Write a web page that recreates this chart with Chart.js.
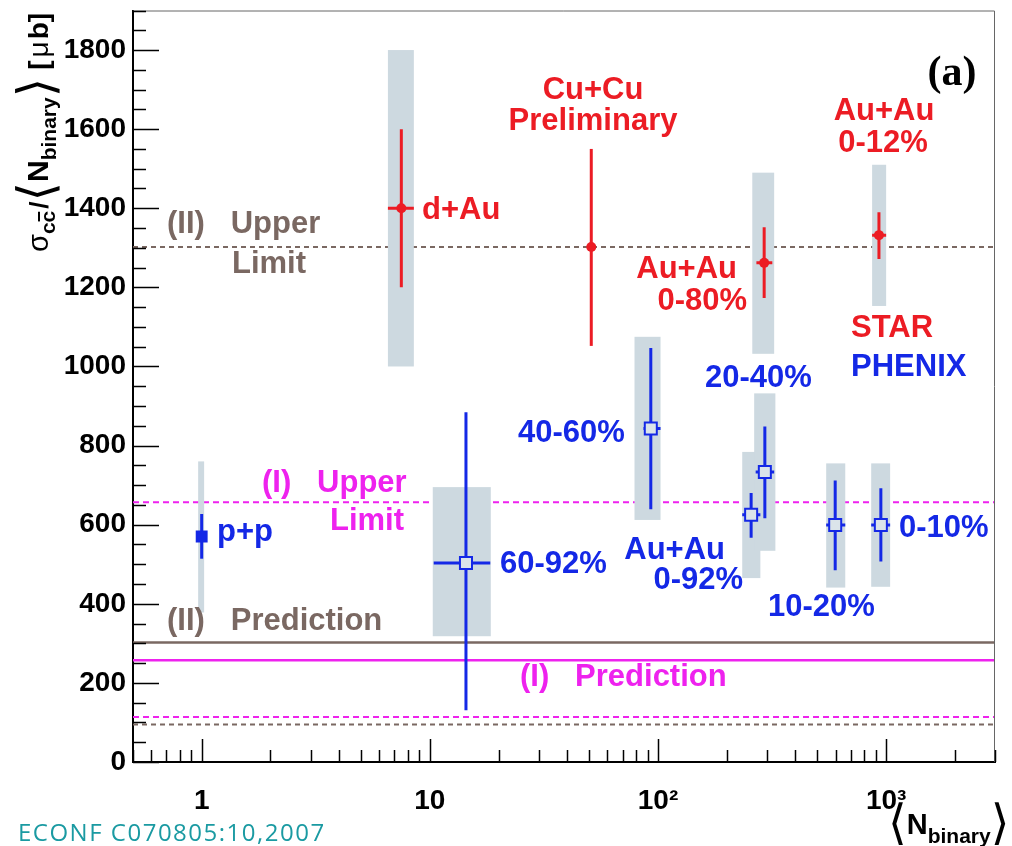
<!DOCTYPE html>
<html>
<head>
<meta charset="utf-8">
<script src="https://cdn.jsdelivr.net/npm/chart.js@4.4.0/dist/chart.umd.min.js"></script>
<style>
  body { margin: 0; background: #fff; }
</style>
</head>
<body>
<canvas id="myChart" width="1012" height="846"></canvas>
<script>
// axis ticks
const xTicks = [1, 10, 100, 1000];
const xTickLabels = ["1", "10", "10²", "10³"];
const yTicks = [0, 200, 400, 600, 800, 1000, 1200, 1400, 1600, 1800];

// STAR (red) points
const starNames = ["d+Au", "Cu+Cu", "Au+Au 0-80%", "Au+Au 0-12%"];
const starX = [7.5, 51, 292, 930];
const starY = [1400, 1302, 1262, 1332];
const starErrLow = [1200, 1052, 1173, 1272];
const starErrHigh = [1600, 1550, 1352, 1390];
const starXLow = [6.55, 51, 270, 868];
const starXHigh = [8.51, 51, 317, 1000];
const starSysLow = [1000, null, 1032, 1153];
const starSysHigh = [1800, null, 1490, 1510];
const starSysXLow = [6.55, null, 259, 868];
const starSysXHigh = [8.51, null, 323, 1000];

// PHENIX (blue) points
const phenixNames = ["p+p", "60-92%", "40-60%", "Au+Au 0-92%", "20-40%", "10-20%", "0-10%"];
const phenixX = [1.0, 14.4, 93, 256, 294, 598, 948];
const phenixY = [570, 503, 843, 625, 733, 599, 599];
const phenixErrLow = [514, 131, 639, 567, 616, 485, 507];
const phenixErrHigh = [627, 884, 1047, 680, 848, 712, 692];
const phenixXLow = [1.0, 10.4, 86.4, 234, 268, 546, 860];
const phenixXHigh = [1.0, 18.4, 102.6, 281, 323, 662, 1041];
const phenixSysLow = [378, 318, 612, 465, 534, 441, 443];
const phenixSysHigh = [760, 695, 1075, 784, 932, 755, 755];
const phenixSysXLow = [0.965, 10.3, 78.9, 234, 264, 546, 860];
const phenixSysXHigh = [1.025, 18.5, 102.6, 281, 327, 662, 1041];

// model lines
const limitNames = ["(II) Upper Limit", "(I) Upper Limit", "(II) Prediction", "(I) Prediction", "(I) lower", "(II) lower"];
const limitValues = [1302, 657, 302, 257, 114, 95];

const RED = "#ec1c24";
const BLUE = "#1428e6";
const MAGENTA = "#ee22ee";
const BROWN = "#7a6862";
const BOX = "#cdd9e0";
const SANS = "'Liberation Sans', Arial, sans-serif";

const limitColors = [BROWN, MAGENTA, BROWN, MAGENTA, MAGENTA, BROWN];
const limitDash = [[5, 4], [6, 4], [], [], [6, 4], [5, 4]];

// text placed on the plot (pixel positions, cap centre)
const notes = [
  { t: "d+Au", x: 422, y: 210, c: RED, a: "left" },
  { t: "Cu+Cu", x: 593, y: 90, c: RED, a: "center" },
  { t: "Preliminary", x: 593, y: 121, c: RED, a: "center" },
  { t: "Au+Au", x: 737, y: 269, c: RED, a: "right" },
  { t: "0-80%", x: 747, y: 301, c: RED, a: "right" },
  { t: "Au+Au", x: 884, y: 111, c: RED, a: "center" },
  { t: "0-12%", x: 883, y: 143, c: RED, a: "center" },
  { t: "STAR", x: 851, y: 328, c: RED, a: "left" },
  { t: "PHENIX", x: 851, y: 367, c: BLUE, a: "left" },
  { t: "20-40%", x: 705, y: 378, c: BLUE, a: "left" },
  { t: "40-60%", x: 518, y: 433, c: BLUE, a: "left" },
  { t: "p+p", x: 217, y: 532, c: BLUE, a: "left" },
  { t: "60-92%", x: 500, y: 564, c: BLUE, a: "left" },
  { t: "Au+Au", x: 725, y: 550, c: BLUE, a: "right" },
  { t: "0-92%", x: 743, y: 580, c: BLUE, a: "right" },
  { t: "10-20%", x: 768, y: 607, c: BLUE, a: "left" },
  { t: "0-10%", x: 899, y: 528, c: BLUE, a: "left" },
  { t: "(II)   Upper", x: 167, y: 224, c: BROWN, a: "left" },
  { t: "Limit", x: 232, y: 264, c: BROWN, a: "left" },
  { t: "(I)   Upper", x: 262, y: 483, c: MAGENTA, a: "left" },
  { t: "Limit", x: 330, y: 521, c: MAGENTA, a: "left" },
  { t: "(II)   Prediction", x: 167, y: 621, c: BROWN, a: "left" },
  { t: "(I)   Prediction", x: 520, y: 677, c: MAGENTA, a: "left" },
];

const pts = (xs, ys) => xs.map((x, i) => ({ x: x, y: ys[i] }));

const drawErrors = function (chart, xs, ys, lo, hi, xlo, xhi, color) {
  const ctx = chart.ctx;
  const sx = chart.scales.x, sy = chart.scales.y;
  ctx.save();
  ctx.strokeStyle = color;
  ctx.lineWidth = 3;
  xs.forEach((x, i) => {
    const px = sx.getPixelForValue(x);
    ctx.beginPath();
    ctx.moveTo(px, sy.getPixelForValue(hi[i]));
    ctx.lineTo(px, sy.getPixelForValue(lo[i]));
    if (xlo[i] !== xhi[i]) {
      const py = sy.getPixelForValue(ys[i]);
      ctx.moveTo(sx.getPixelForValue(xlo[i]), py);
      ctx.lineTo(sx.getPixelForValue(xhi[i]), py);
    }
    ctx.stroke();
  });
  ctx.restore();
};

const drawBoxes = function (chart, xlo, xhi, lo, hi) {
  const ctx = chart.ctx;
  const sx = chart.scales.x, sy = chart.scales.y;
  ctx.save();
  ctx.fillStyle = BOX;
  xlo.forEach((x, i) => {
    if (x === null) return;
    const l = sx.getPixelForValue(x), r = sx.getPixelForValue(xhi[i]);
    const t = sy.getPixelForValue(hi[i]), b = sy.getPixelForValue(lo[i]);
    ctx.fillRect(l, t, r - l, b - t);
  });
  ctx.restore();
};

// draw a row of text pieces, returns end x
const drawPieces = function (ctx, pieces, x, y) {
  let cx = x;
  pieces.forEach((p) => {
    ctx.font = p.f;
    const w = ctx.measureText(p.t).width;
    ctx.fillText(p.t, cx, y + (p.dy || 0));
    if (p.over) {
      const cw = ctx.measureText("c").width;
      ctx.fillRect(cx + w - cw + 1, y + (p.dy || 0) - 17, cw - 2, 2);
    }
    cx += w + (p.gap || 0);
  });
  return cx;
};

const rootStyle = {
  id: "rootStyle",
  beforeDatasetDraw(chart, args) {
    // boxes and error bars go above the model lines, under the markers
    if (args.index !== 1) return;
    drawBoxes(chart, starSysXLow, starSysXHigh, starSysLow, starSysHigh);
    drawBoxes(chart, phenixSysXLow, phenixSysXHigh, phenixSysLow, phenixSysHigh);
    drawErrors(chart, starX, starY, starErrLow, starErrHigh, starXLow, starXHigh, RED);
    drawErrors(chart, phenixX, phenixY, phenixErrLow, phenixErrHigh, phenixXLow, phenixXHigh, BLUE);
  },
  afterDraw(chart) {
    const ctx = chart.ctx;
    const area = chart.chartArea;
    const sx = chart.scales.x, sy = chart.scales.y;
    ctx.save();

    // frame
    ctx.strokeStyle = "#666";
    ctx.lineWidth = 1;
    ctx.beginPath();
    ctx.moveTo(area.left, area.top + 0.5);
    ctx.lineTo(area.right - 0.5, area.top + 0.5);
    ctx.lineTo(area.right - 0.5, area.bottom);
    ctx.stroke();

    // inward ticks
    ctx.strokeStyle = "#000";
    ctx.lineWidth = 1.5;
    ctx.beginPath();
    for (let v = 0; v <= 1900; v += 50) {
      const py = Math.round(sy.getPixelForValue(v)) + 0.5;
      const len = v % 200 === 0 ? 26 : 13;
      ctx.moveTo(area.left, py);
      ctx.lineTo(area.left + len, py);
    }
    for (let d = 0.1; d < 3000; d *= 10) {
      for (let m = 1; m < 10; m++) {
        const v = d * m;
        if (v < 0.5 || v > 3000) continue;
        const px = Math.round(sx.getPixelForValue(v)) + 0.5;
        const len = m === 1 ? 23 : 12;
        ctx.moveTo(px, area.bottom);
        ctx.lineTo(px, area.bottom - len);
      }
    }
    ctx.stroke();

    // notes
    ctx.font = "bold 31px " + SANS;
    ctx.textBaseline = "middle";
    notes.forEach((n) => {
      ctx.fillStyle = n.c;
      ctx.textAlign = n.a;
      ctx.fillText(n.t, n.x, n.y);
    });

    ctx.fillStyle = "#000";
    ctx.textAlign = "center";
    ctx.font = "bold 42px 'Liberation Serif', 'Times New Roman', serif";
    ctx.fillText("(a)", 952, 74);

    // y title, rotated
    ctx.textAlign = "left";
    ctx.textBaseline = "alphabetic";
    ctx.translate(48, 252);
    ctx.rotate(-Math.PI / 2);
    drawPieces(ctx, [
      { t: "σ", f: "29px " + SANS },
      { t: "cc", f: "bold 21px " + SANS, dy: 7, over: true, gap: 2 },
      { t: "/", f: "bold 26px " + SANS },
      { t: "⟨", f: "50px 'DejaVu Sans'", dy: 5 },
      { t: "N", f: "bold 30px " + SANS },
      { t: "binary", f: "bold 21px " + SANS, dy: 8 },
      { t: "⟩", f: "50px 'DejaVu Sans'", dy: 5, gap: 8 },
      { t: "[", f: "bold 28px " + SANS, gap: 3 },
      { t: "μ", f: "28px " + SANS, gap: 2 },
      { t: "b]", f: "bold 28px " + SANS },
    ], 0, 0);
    ctx.setTransform(1, 0, 0, 1, 0, 0);

    // x title
    drawPieces(ctx, [
      { t: "⟨", f: "48px 'DejaVu Sans'", dy: 5 },
      { t: "N", f: "bold 29px " + SANS },
      { t: "binary", f: "bold 21px " + SANS, dy: 9 },
      { t: "⟩", f: "48px 'DejaVu Sans'", dy: 5 },
    ], 888, 834);

    // source tag
    ctx.fillStyle = "#1a9aa2";
    ctx.font = "24px 'Open Sans', sans-serif";
    ctx.letterSpacing = "1.5px";
    ctx.textBaseline = "middle";
    ctx.fillText("ECONF C070805:10,2007", 18, 834);
    ctx.restore();
  },
};

const datasets = [
  {
    label: "STAR",
    data: pts(starX, starY),
    pointStyle: "circle",
    pointRadius: 5,
    pointBackgroundColor: RED,
    pointBorderWidth: 0,
  },
  {
    label: "PHENIX",
    data: pts(phenixX, phenixY),
    pointStyle: "rect",
    pointRadius: phenixX.map((x, i) => (i === 0 ? 7 : 8.5)),
    pointBackgroundColor: phenixX.map((x, i) => (i === 0 ? BLUE : "#dbe4ea")),
    pointBorderColor: BLUE,
    pointBorderWidth: 2,
  },
];
limitValues.forEach((v, i) => {
  datasets.push({
    label: limitNames[i],
    type: "line",
    data: [{ x: 0.5, y: v }, { x: 3000, y: v }],
    borderColor: limitColors[i],
    borderWidth: limitDash[i].length ? 2 : 2.5,
    borderDash: limitDash[i],
    pointRadius: 0,
    fill: false,
  });
});

new Chart(document.getElementById("myChart"), {
  type: "scatter",
  data: { datasets: datasets },
  options: {
    responsive: false,
    animation: false,
    devicePixelRatio: 1,
    layout: { padding: { top: 8, right: 17, left: 0, bottom: 0 } },
    plugins: { legend: { display: false }, tooltip: { enabled: false } },
    scales: {
      x: {
        type: "logarithmic",
        min: 0.5,
        max: 3000,
        grid: { display: false, drawTicks: false },
        border: { display: true, color: "#000", width: 2 },
        afterBuildTicks: (s) => { s.ticks = xTicks.map((v) => ({ value: v })); },
        afterFit: (s) => { s.height = 84; s.paddingLeft = 0; s.paddingRight = 0; },
        ticks: {
          callback: (v, i) => xTickLabels[i],
          font: { family: SANS, size: 28, weight: "bold" },
          color: "#000",
          padding: 22,
          maxRotation: 0,
          autoSkip: false,
        },
      },
      y: {
        min: 0,
        max: 1900,
        grid: { display: false, drawTicks: false },
        border: { display: true, color: "#000", width: 2 },
        afterBuildTicks: (s) => { s.ticks = yTicks.map((v) => ({ value: v })); },
        afterFit: (s) => { s.width = 133; s.paddingTop = 0; s.paddingBottom = 0; },
        ticks: {
          callback: (v) => String(v),
          font: { family: SANS, size: 28, weight: "bold" },
          color: "#000",
          padding: 7,
        },
      },
    },
  },
  plugins: [rootStyle],
});
</script>
</body>
</html>
